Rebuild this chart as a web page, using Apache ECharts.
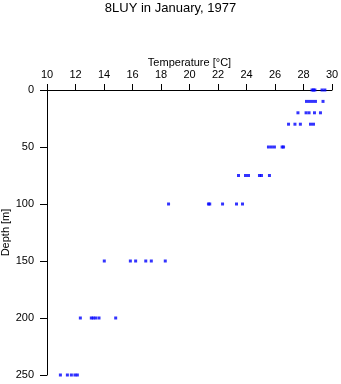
<!DOCTYPE html>
<html>
<head>
<meta charset="utf-8">
<script src="https://cdn.jsdelivr.net/npm/echarts@6/dist/echarts.min.js"></script>
<style>
html,body{margin:0;padding:0;background:#fff;}
#c{width:341px;height:384px;}
</style>
</head>
<body>
<div id="c"></div>
<script>
const titleText = "8LUY in January, 1977";
const xName = "Temperature [\u00B0C]";
const yName = "Depth [m]";
const depthLevels = [0, 10, 20, 30, 50, 75, 100, 150, 200, 250];
const temps0   = [28.6, 28.7, 28.8, 29.3, 29.5];
const temps10  = [28.21, 28.42, 28.63, 28.84, 29.37];
const temps20  = [27.61, 28.18, 28.39, 28.77, 29.19];
const temps30  = [26.95, 27.4, 27.78, 28.49, 28.7];
const temps50  = [25.54, 25.75, 25.96, 26.5, 26.6];
const temps75  = [23.44, 23.93, 24.14, 24.91, 25.05, 25.61];
const temps100 = [18.53, 21.33, 21.42, 22.32, 23.3, 23.72];
const temps150 = [14.02, 15.85, 16.22, 16.93, 17.32, 18.3];
const temps200 = [12.34, 13.11, 13.25, 13.42, 13.65, 14.82];
const temps250 = [10.94, 11.43, 11.71, 11.96, 12.13];
const tempsByLevel = [temps0, temps10, temps20, temps30, temps50, temps75, temps100, temps150, temps200, temps250];

const points = [];
depthLevels.forEach((d, i) => tempsByLevel[i].forEach(t => points.push([t, d])));

const font = "'Liberation Sans', Arial, sans-serif";
const chart = echarts.init(document.getElementById('c'), null, {renderer: 'canvas'});
chart.setOption({
  animation: false,
  backgroundColor: '#fff',
  title: {
    text: titleText, left: 'center', top: 2, padding: 0,
    textStyle: {fontFamily: font, fontSize: 13, fontWeight: 'normal', color: '#000'}
  },
  grid: {left: 47, top: 90, right: 9, bottom: 9, containLabel: false, outerBoundsMode: 'none'},
  xAxis: {
    type: 'value', position: 'top', min: 10, max: 30, interval: 2,
    name: xName, nameLocation: 'middle', nameGap: 22, nameMoveOverlap: false,
    nameTextStyle: {fontFamily: font, fontSize: 11, color: '#000'},
    axisLine: {show: true, onZero: false, lineStyle: {color: '#000', width: 1}},
    axisTick: {show: true, inside: false, length: 6, lineStyle: {color: '#000'}},
    axisLabel: {fontFamily: font, fontSize: 11, color: '#000', margin: 10},
    splitLine: {show: false}
  },
  yAxis: {
    type: 'value', inverse: true, min: 0, max: 250, interval: 50,
    name: yName, nameLocation: 'middle', nameGap: 36, nameMoveOverlap: false,
    nameTextStyle: {fontFamily: font, fontSize: 11, color: '#000'},
    axisLine: {show: true, onZero: false, lineStyle: {color: '#000', width: 1}},
    axisTick: {show: true, inside: false, length: 7, lineStyle: {color: '#000'}},
    axisLabel: {fontFamily: font, fontSize: 11, color: '#000', margin: 13},
    splitLine: {show: false}
  },
  series: [{
    type: 'scatter',
    data: points,
    symbol: 'rect',
    symbolSize: 3,
    itemStyle: {color: '#0000ff'},
    clip: false
  }]
});
</script>
</body>
</html>
